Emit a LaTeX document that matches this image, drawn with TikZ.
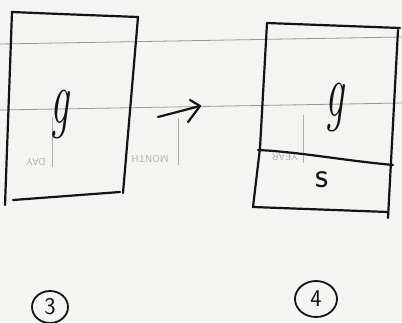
\documentclass[tikz,border=0pt]{standalone}
\usetikzlibrary{shapes.geometric}
\definecolor{paper}{RGB}{244,244,242}
\definecolor{ruling}{RGB}{160,148,148}
\definecolor{showthrough}{RGB}{175,175,172}
\definecolor{pen}{RGB}{20,20,20}
\begin{document}
\begin{tikzpicture}[x=1pt,y=-1pt,
  ink/.style={draw=pen, line width=2.2pt, line cap=round, line join=round},
  ruleline/.style={draw=ruling, line width=0.8pt},
  faint/.style={draw=showthrough, line width=0.8pt},
  faintlabel/.style={text=showthrough, font=\sffamily\fontsize{10}{10}\selectfont, rotate=180, inner sep=0pt},
  bigletter/.style={text=pen, font=\itshape\fontsize{76}{76}\selectfont, inner sep=0pt, xscale=0.55},
  smallletter/.style={text=pen, font=\sffamily\fontsize{36}{36}\selectfont, inner sep=0pt},
  numlabel/.style={text=pen, draw=pen, line width=1.8pt, ellipse, inner sep=0pt,
    font=\sffamily\fontsize{24}{24}\selectfont}]
\fill[paper] (0,0) rectangle (402,322);
\useasboundingbox (0,0) rectangle (402,322);

% ruled lines of the sheet
\draw[ruleline] (0,44) -- (402,37);
\draw[ruleline] (0,110) -- (402,103);

% marks showing through from the other side
\draw[faint] (52,117) -- (52,167);
\draw[faint] (178,118) -- (178,165);
\draw[faint] (303,115) -- (303,163);
\node[faintlabel] (day) at (36,162) {DAY};
\node[faintlabel] (month) at (150,159) {MONTH};
\node[faintlabel] (year) at (285,157) {YEAR};

% frame 3
\coordinate (a1) at (12,12);
\coordinate (a2) at (138,17);
\coordinate (a3) at (123,193);
\coordinate (a4) at (5,205);
\coordinate (a5) at (13,200);
\coordinate (a6) at (120,192);
\draw[ink] (a4) -- (a1) .. controls (60,14) .. (a2) -- (a3);
\draw[ink] (a5) -- (a6);
\node[bigletter] (g1) at (60,114) {g};

% arrow between the frames
\coordinate (t0) at (158,117);
\coordinate (t1) at (200,106);
\coordinate (b1) at (190,100);
\coordinate (b2) at (188,122);
\draw[ink] (t0) -- (t1);
\draw[ink] (b1) -- (t1) -- (b2);

% frame 4
\coordinate (c1) at (267,23);
\coordinate (c2) at (400,28);
\coordinate (c3) at (398,30);
\coordinate (c4) at (388,218);
\coordinate (c5) at (260,148);
\coordinate (c6) at (253,207);
\coordinate (c7) at (388,212);
\coordinate (d1) at (258,150);
\coordinate (d2) at (393,165);
\draw[ink] (c1) -- (c2);
\draw[ink] (c3) -- (c4);
\draw[ink] (c1) -- (c5) -- (c6) -- (c7);
\draw[ink] (d1) .. controls (300,152) and (340,160) .. (d2);
\node[bigletter] (g2) at (335,107) {g};
\node[smallletter] (s) at (322,180) {s};

% step numbers
\node[numlabel, minimum width=36pt, minimum height=32pt] (n3) at (50,307) {3};
\node[numlabel, minimum width=42pt, minimum height=36pt] (n4) at (316,299) {4};
\end{tikzpicture}
\end{document}
